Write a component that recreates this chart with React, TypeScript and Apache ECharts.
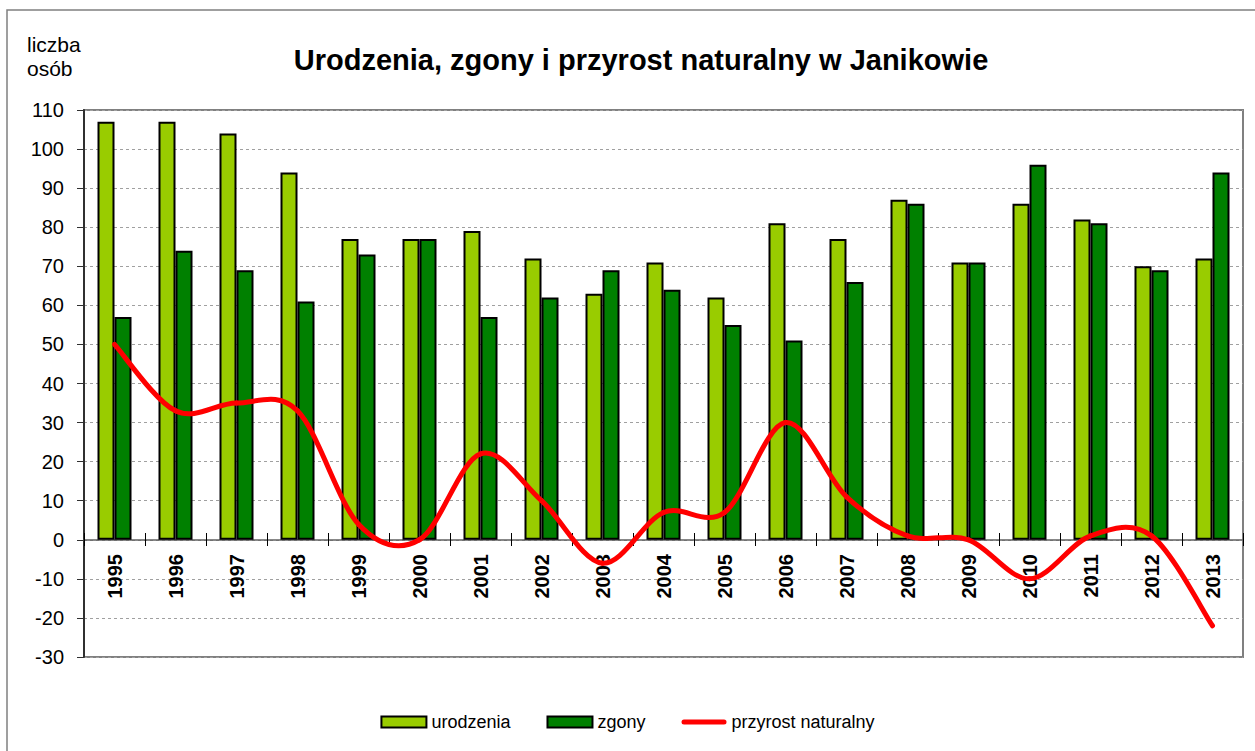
import React, { useEffect, useRef } from "react";
import * as echarts from "echarts";

const years = ["1995","1996","1997","1998","1999","2000","2001","2002","2003","2004","2005","2006","2007","2008","2009","2010","2011","2012","2013"];
const urodzenia = [107,107,104,94,77,77,79,72,63,71,62,81,77,87,71,86,82,70,72];
const zgony = [57,74,69,61,73,77,57,62,69,64,55,51,66,86,71,96,81,69,94];
const przyrost = [50,33,35,33,4,0,22,10,-6,7,7,30,11,1,0,-10,1,1,-22];

const FONT = "Arial, 'Liberation Sans', sans-serif";

export default function App() {
  const ref = useRef<HTMLDivElement>(null);
  useEffect(() => {
    const chart = echarts.init(ref.current!, undefined, { renderer: "svg" });
    const lineData = przyrost.map((v, i) => [i, v]);
    chart.setOption({
      animation: false,
      backgroundColor: "#ffffff",
      textStyle: { fontFamily: FONT },
      title: {
        text: "Urodzenia, zgony i przyrost naturalny w Janikowie",
        left: 636,
        top: 40,
        textAlign: "center",
        textStyle: { fontSize: 29, fontWeight: "bold", color: "#000", fontFamily: FONT },
      },
      graphic: [
        { type: "rect", shape: { x: 7, y: 10, width: 1260, height: 760 }, style: { fill: "none", stroke: "#808080", lineWidth: 1.5 }, silent: true, z: -10 },
        { type: "text", left: 27, top: 32, style: { text: "liczba\nosób", fontSize: 21, lineHeight: 24, fill: "#000", align: "center", fontFamily: FONT } },
      ],
      legend: {
        left: "center",
        top: 708,
        itemWidth: 45,
        itemHeight: 11,
        itemGap: 36,
        textStyle: { fontSize: 18, color: "#000", fontFamily: FONT },
        data: [
          { name: "urodzenia", icon: "rect", itemStyle: { color: "#99CC00", borderColor: "#000", borderWidth: 2 } },
          { name: "zgony", icon: "rect", itemStyle: { color: "#008000", borderColor: "#000", borderWidth: 2 } },
          { name: "przyrost naturalny", icon: "path://M2.5,0 L42.5,0 A2.5,2.5 0 0 1 42.5,5 L2.5,5 A2.5,2.5 0 0 1 2.5,0 Z", itemStyle: { color: "#FF0000", borderWidth: 0 } },
        ],
      },
      grid: {
        left: 84,
        right: 12,
        top: 110,
        bottom: 94,
        show: true,
        borderColor: "#808080",
        borderWidth: 2,
      },
      xAxis: [
        {
          type: "category",
          data: years,
          position: "bottom",
          offset: -117,
          axisLine: { onZero: false, lineStyle: { color: "#606060", width: 1.5 } },
          axisTick: { show: true, inside: false, length: 6, lineStyle: { color: "#000" } },
          axisLabel: { rotate: 90, fontSize: 20, fontWeight: "bold", color: "#000", margin: 14, fontFamily: FONT },
          splitLine: { show: false },
        },
        {
          type: "category",
          data: years,
          position: "bottom",
          offset: -117,
          axisLine: { show: false, onZero: false },
          axisTick: { show: true, inside: true, length: 7, lineStyle: { color: "#000" } },
          axisLabel: { show: false },
          splitLine: { show: false },
        },
      ],
      yAxis: {
        type: "value",
        min: -30,
        max: 110,
        interval: 10,
        axisLine: { show: true, lineStyle: { color: "#303030", width: 2 } },
        axisTick: { show: true, length: 7, lineStyle: { color: "#303030" } },
        axisLabel: { fontSize: 20, color: "#000", margin: 20, fontFamily: FONT },
        splitLine: { show: true, lineStyle: { color: "#a0a0a0", type: [3, 3], width: 1 } },
      },
      series: [
        {
          name: "urodzenia",
          type: "bar",
          data: urodzenia,
          barWidth: 17,
          barGap: "0%",
          itemStyle: { color: "#99CC00", borderColor: "#000", borderWidth: 2 },
        },
        {
          name: "zgony",
          type: "bar",
          data: zgony,
          barWidth: 17,
          itemStyle: { color: "#008000", borderColor: "#000", borderWidth: 2 },
        },
        {
          name: "przyrost naturalny",
          type: "custom",
          data: lineData,
          encode: { x: 0, y: 1 },
          itemStyle: { color: "#FF0000" },
          z: 5,
          renderItem: (params: any, api: any) => {
            const i = params.dataIndex;
            const n = przyrost.length;
            if (i >= n - 1) return { type: "group", children: [] };
            const pt = (j: number) => {
              const k = Math.max(0, Math.min(n - 1, j));
              return api.coord([k, przyrost[k]]);
            };
            const p0 = pt(i - 1), p1 = pt(i), p2 = pt(i + 1), p3 = pt(i + 2);
            const t = 1 / 6;
            return {
              type: "bezierCurve",
              shape: {
                x1: p1[0], y1: p1[1],
                cpx1: p1[0] + (p2[0] - p0[0]) * t, cpy1: p1[1] + (p2[1] - p0[1]) * t,
                cpx2: p2[0] - (p3[0] - p1[0]) * t, cpy2: p2[1] - (p3[1] - p1[1]) * t,
                x2: p2[0], y2: p2[1],
              },
              style: { stroke: "#FF0000", lineWidth: 5, fill: "none", lineCap: "round" },
            };
          },
        },
      ],
    });
    return () => chart.dispose();
  }, []);
  return <div ref={ref} style={{ position: "fixed", left: 0, top: 0, width: 1255, height: 751 }} />;
}
